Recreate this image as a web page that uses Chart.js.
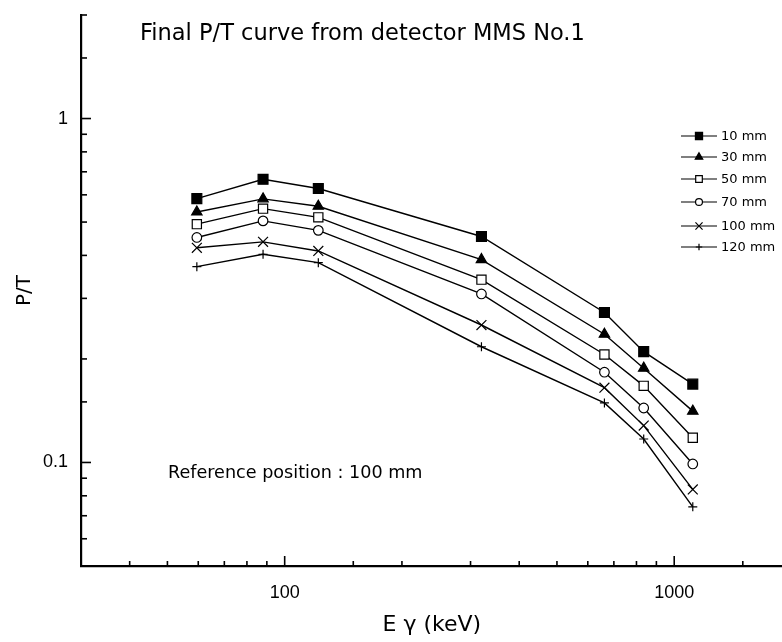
<!DOCTYPE html>
<html>
<head>
<meta charset="utf-8">
<script src="https://cdn.jsdelivr.net/npm/chart.js@4/dist/chart.umd.min.js"></script>
<style>
  body { margin: 0; background: #fff; overflow: hidden; }
  canvas { display: block; }
</style>
</head>
<body>
<canvas id="ptChart" width="791" height="642"></canvas>
<script>
// gamma energies (keV)
const energies = [59.5, 88, 122, 320, 662, 835, 1116];

// P/T for each source distance
const p10 = [0.585, 0.666, 0.626, 0.454, 0.273, 0.210, 0.169];
const p30 = [0.535, 0.584, 0.556, 0.389, 0.236, 0.188, 0.141];
const p50 = [0.493, 0.547, 0.516, 0.340, 0.206, 0.167, 0.118];
const p70 = [0.451, 0.504, 0.473, 0.309, 0.183, 0.144, 0.099];
const p100 = [0.421, 0.438, 0.412, 0.251, 0.165, 0.128, 0.0835];
const p120 = [0.371, 0.403, 0.381, 0.217, 0.149, 0.117, 0.0743];

const seriesNames = ['10 mm', '30 mm', '50 mm', '70 mm', '100 mm', '120 mm'];
const xTickLabels = [100, 1000];
const yTickLabels = [0.1, 1];

const FONT = "'Liberation Sans', Arial, sans-serif";
const WIDE = "'DejaVu Sans', sans-serif";

const markers = [
  {style: 'rect', radius: 7, fill: '#000'},
  {style: 'triangle', radius: 6, fill: '#000'},
  {style: 'rect', radius: 6.5, fill: '#fff'},
  {style: 'circle', radius: 4.8, fill: '#fff'},
  {style: 'crossRot', radius: 7, fill: '#fff'},
  {style: 'cross', radius: 4.5, fill: '#fff'},
];

function toPoints(values) {
  return values.map((v, i) => ({x: energies[i], y: v}));
}

const allSeries = [p10, p30, p50, p70, p100, p120];

const datasets = allSeries.map((vals, i) => ({
  label: seriesNames[i],
  data: toPoints(vals),
  borderColor: '#000',
  borderWidth: 1.4,
  pointStyle: markers[i].style,
  pointRadius: markers[i].radius,
  pointBackgroundColor: markers[i].fill,
  pointBorderColor: '#000',
  pointBorderWidth: 1.2,
  showLine: true,
  tension: 0,
}));

function isDecade(v) {
  const l = Math.log10(v);
  return Math.abs(l - Math.round(l)) < 1e-6;
}

// ticks pointing into the plot, plus the legend and free text
const extrasPlugin = {
  id: 'extras',
  afterDraw(chart) {
    const ctx = chart.ctx;
    const area = chart.chartArea;
    const xs = chart.scales.x;
    const ys = chart.scales.y;
    ctx.save();
    ctx.strokeStyle = '#000';
    ctx.lineWidth = 1.6;
    xs.ticks.forEach((t) => {
      const px = xs.getPixelForValue(t.value);
      if (px <= area.left + 2 || px >= area.right - 1) return;
      const len = isDecade(t.value) ? 10 : 5;
      ctx.beginPath();
      ctx.moveTo(px, area.bottom);
      ctx.lineTo(px, area.bottom - len);
      ctx.stroke();
    });
    ys.ticks.forEach((t) => {
      const py = ys.getPixelForValue(t.value);
      if (py >= area.bottom - 2) return;
      const len = isDecade(t.value) ? 10 : 6;
      ctx.beginPath();
      ctx.moveTo(area.left, py);
      ctx.lineTo(area.left + len, py);
      ctx.stroke();
    });

    ctx.fillStyle = '#000';
    ctx.textBaseline = 'middle';
    ctx.textAlign = 'left';
    ctx.font = '22.5px ' + WIDE;
    ctx.fillText('Final P/T curve from detector MMS No.1', 140, 34);
    ctx.font = '17.6px ' + WIDE;
    ctx.fillText('Reference position : 100 mm', 168, 473);

    // legend
    const rowY = [136, 157, 179, 202, 226, 247];
    chart.data.datasets.forEach((ds, i) => {
      const y = rowY[i];
      ctx.lineWidth = 1.2;
      ctx.strokeStyle = '#000';
      ctx.beginPath();
      ctx.moveTo(681, y);
      ctx.lineTo(717, y);
      ctx.stroke();
      ctx.fillStyle = ds.pointBackgroundColor;
      Chart.helpers.drawPoint(ctx, {
        pointStyle: ds.pointStyle,
        radius: ds.pointRadius * 0.72,
        borderWidth: 1,
      }, 699, y);
      ctx.fillStyle = '#000';
      ctx.font = '13px ' + WIDE;
      ctx.fillText(ds.label, 721, y + 1);
    });
    ctx.restore();
  },
};

const config = {
  type: 'scatter',
  data: {datasets: datasets},
  options: {
    responsive: false,
    animation: false,
    layout: {padding: {top: 15, right: 0, left: 0, bottom: 0}},
    plugins: {
      legend: {display: false},
      tooltip: {enabled: false},
    },
    scales: {
      x: {
        type: 'logarithmic',
        position: 'bottom',
        min: 30,
        max: 1900,
        afterFit: (s) => {
          s.height = 76;
          s.paddingLeft = 0;
          s.paddingRight = 0;
        },
        grid: {display: false, drawTicks: false},
        border: {color: '#000', width: 2.2},
        ticks: {
          autoSkip: false,
          maxRotation: 0,
          color: '#000',
          font: {family: FONT, size: 18},
          padding: 16,
          callback: (v) => xTickLabels.find((t) => Math.abs(t - v) < 1e-6) !== undefined ? String(v) : '',
        },
        title: {
          display: true,
          text: 'E γ (keV)',
          color: '#000',
          font: {family: WIDE, size: 22},
          padding: {top: 0, bottom: 4},
        },
      },
      y: {
        type: 'logarithmic',
        position: 'left',
        min: 0.05,
        max: 2,
        afterFit: (s) => {
          s.width = 81;
          s.paddingTop = 0;
          s.paddingBottom = 0;
        },
        grid: {display: false, drawTicks: false},
        border: {color: '#000', width: 2.2},
        ticks: {
          autoSkip: false,
          color: '#000',
          font: {family: FONT, size: 18},
          padding: 13,
          callback: (v) => yTickLabels.find((t) => Math.abs(t - v) < 1e-9) !== undefined ? String(v) : '',
        },
        title: {
          display: true,
          text: 'P/T',
          color: '#000',
          font: {family: WIDE, size: 20},
          padding: {top: 13, bottom: 0},
        },
      },
    },
  },
  plugins: [extrasPlugin],
};

new Chart(document.getElementById('ptChart').getContext('2d'), config);
</script>
</body>
</html>
